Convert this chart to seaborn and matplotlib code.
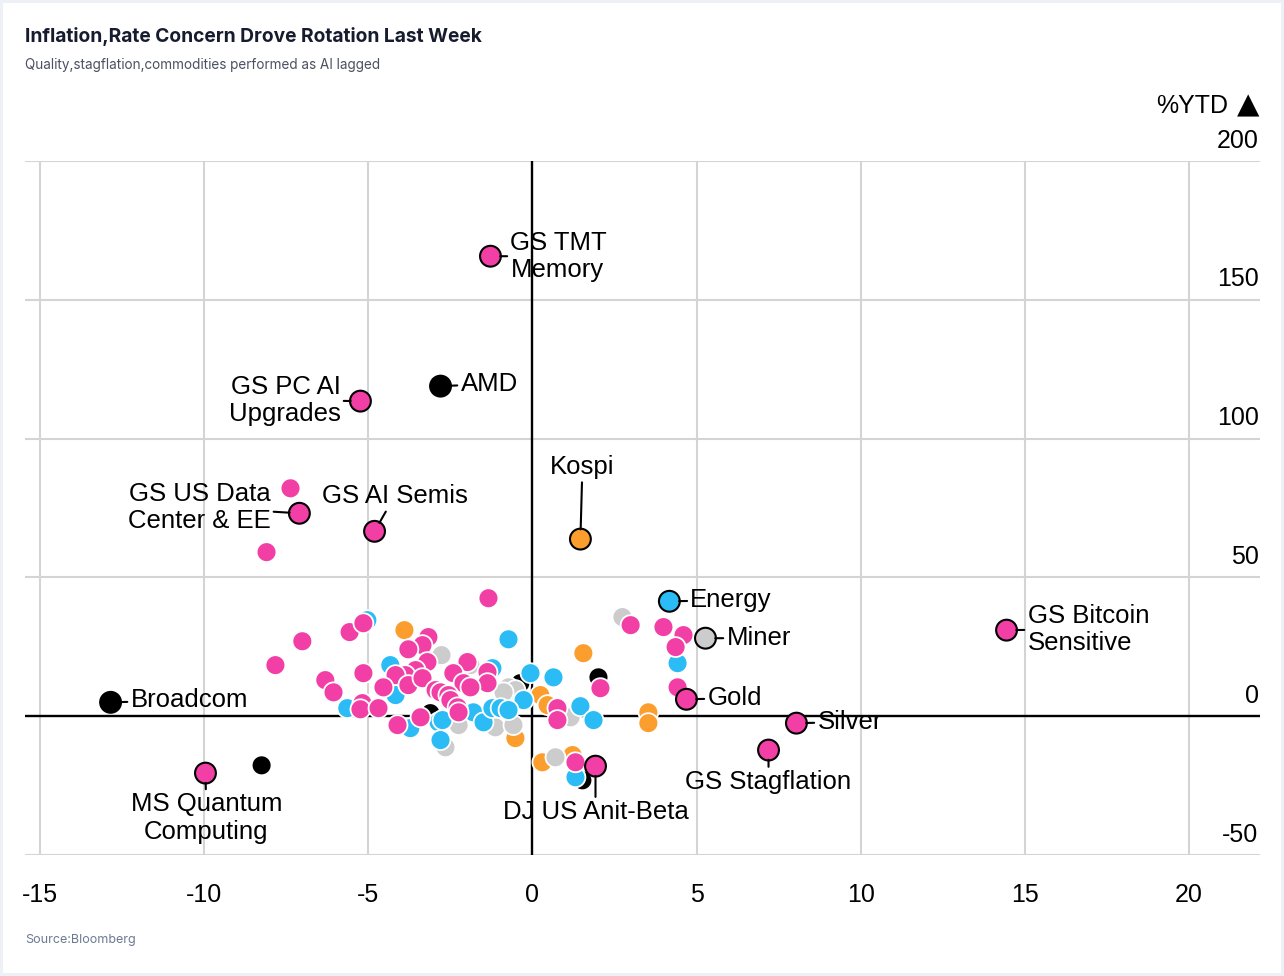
import numpy as np
import pandas as pd
import matplotlib
matplotlib.use("Agg")
import matplotlib.pyplot as plt
import matplotlib.transforms as mtransforms
import seaborn as sns

# unlabeled points by group (x = week %, y = %YTD)
black_x = [-8.25, 2.01, 1.52, -0.37, -3.11, -1.98]
black_y = [-17.7, 14.0, -23.1, 11.9, 1.1, 18.4]

orange_x = [-3.90, 1.55, 0.24, 0.46, 3.53, 3.53, -0.52, 0.30, 1.22]
orange_y = [31.0, 22.7, 7.6, 4.0, 1.4, -2.5, -7.9, -16.6, -14.0]

gray_x = [-2.77, -0.73, -0.52, -0.88, -2.25, -1.13, -0.58, -2.65, 1.16, 2.74, 0.70, -1.89]
gray_y = [22.0, 10.4, 9.4, 8.6, -3.2, -4.0, -3.2, -11.2, -0.4, 35.7, -14.8, 18.4]

blue_x = [-5.03, -4.33, -4.17, -5.64, -3.72, -2.86, -2.80, -0.73, -1.22, -0.06, 0.64,
          -0.27, -2.74, -1.80, -1.49, -1.22, -0.97, -0.73, 1.46, 1.86, 4.42, 1.31]
blue_y = [34.6, 18.4, 7.6, 2.9, -4.3, -2.2, -8.6, 27.7, 17.3, 15.5, 14.0,
          5.8, -1.4, 1.4, -2.2, 2.9, 2.9, 2.2, 3.6, -1.4, 19.1, -22.0]

pink_x = [-7.37, -8.10, -1.34, -7.01, -7.83, -5.57, -5.15, -6.31, -6.06, -5.18, -5.24,
          -4.69, -3.17, -3.35, -3.78, -3.20, -3.56, -3.87, -4.17, -3.78, -3.35, -4.54,
          -5.15, -2.95, -3.41, -4.11, -1.98, -2.41, -1.37, -1.37, -2.10, -1.89, -2.80,
          -2.56, -2.50, -2.28, -2.25, 2.07, 0.76, 0.76, 2.99, 3.99, 4.60, 4.36, 4.42, 1.31]
pink_y = [82.1, 59.1, 42.5, 27.0, 18.4, 30.3, 33.5, 13.0, 8.6, 4.7, 2.5,
          2.9, 28.5, 25.6, 24.1, 19.5, 16.6, 14.8, 14.8, 11.2, 13.7, 10.4,
          15.5, 9.4, -0.4, -3.2, 19.5, 15.5, 15.9, 11.9, 11.9, 10.4, 8.6,
          7.6, 5.8, 3.2, 1.4, 10.1, 2.9, -1.4, 32.8, 32.1, 29.2, 24.9, 10.4, -16.6]

# labeled points
label_names = ["GS TMT\nMemory", "AMD", "GS PC AI\nUpgrades", "GS US Data\nCenter & EE",
               "GS AI Semis", "Kospi", "Energy", "Miner", "GS Bitcoin\nSensitive", "Gold",
               "Silver", "GS Stagflation", "DJ US Anit-Beta", "Broadcom", "MS Quantum\nComputing"]
label_x = [-1.28, -2.80, -5.24, -7.10, -4.81, 1.46, 4.17, 5.27, 14.44, 4.69,
           8.04, 7.19, 1.92, -12.85, -9.96]
label_y = [165.7, 118.9, 113.5, 73.1, 66.6, 63.8, 41.4, 28.1, 31.0, 6.1,
           -2.5, -12.2, -18.0, 5.0, -20.5]
label_group = ["pink", "black", "pink", "pink", "pink", "orange", "blue", "gray", "pink", "pink",
               "pink", "pink", "pink", "black", "pink"]

x_ticks = [-15, -10, -5, 0, 5, 10, 15, 20]
y_ticks = [-50, 0, 50, 100, 150, 200]

palette = {"black": "#000000", "orange": "#fb9e2e", "gray": "#cccccc",
           "blue": "#2bbcf5", "pink": "#f23fa6"}

# text placement for labels: (dx px, dy px, ha)
label_place = [(20, 0, "left"), (20, 2, "left"), (-20, 1, "right"), (-29, 6, "right"),
               (20, 35, "center"), (2, 72, "center"), (21, 1, "left"), (21, 0, "left"),
               (21, 1, "left"), (21, 1, "left"), (21, 1, "left"), (0, -32, "center"),
               (0, -46, "center"), (20, 2, "left"), (1, -45, "center")]

groups = [("black", black_x, black_y), ("orange", orange_x, orange_y), ("gray", gray_x, gray_y),
          ("blue", blue_x, blue_y), ("pink", pink_x, pink_y)]
df = pd.concat([pd.DataFrame({"x": gx, "y": gy, "group": g}) for g, gx, gy in groups],
               ignore_index=True)
lab = pd.DataFrame({"x": label_x, "y": label_y, "group": label_group, "name": label_names})

sns.set_style("white")
plt.rcParams["font.family"] = ["Liberation Sans", "DejaVu Sans"]
plt.rcParams["text.color"] = "black"
plt.rcParams["xtick.color"] = "black"
plt.rcParams["ytick.color"] = "black"

fig = plt.figure(figsize=(12.84, 9.76), dpi=100)
ax = fig.add_axes([25 / 1284, 121 / 976, 1235 / 1284, 694 / 976])

sns.scatterplot(data=df, x="x", y="y", hue="group", palette=palette, s=205,
                edgecolor="white", linewidth=1.3, legend=False, ax=ax, zorder=3)
sns.scatterplot(data=lab, x="x", y="y", hue="group", palette=palette, s=225,
                edgecolor="black", linewidth=1.5, legend=False, ax=ax, zorder=4)

for name, px, py, (dx, dy, ha) in zip(label_names, label_x, label_y, label_place):
    ax.annotate(name, (px, py), xytext=(dx, dy), textcoords="offset pixels",
                ha=ha, va="center", fontsize=18.5, linespacing=1.17, zorder=5,
                color="black",
                arrowprops=dict(arrowstyle="-", color="black", lw=1.5,
                                shrinkA=0, shrinkB=7))

ax.axhline(0, color="black", lw=1.7, zorder=2)
ax.axvline(0, color="black", lw=1.7, zorder=2)

ax.set_xlim(-15.457, 22.16)
ax.set_ylim(-50, 200)
ax.set_xticks(x_ticks)
ax.set_yticks(y_ticks)
ax.set_xticklabels([str(v) for v in x_ticks])
ax.set_yticklabels([str(v) for v in y_ticks])
ax.grid(True, color="#d4d4d4", lw=1.5)
ax.set_axisbelow(True)
ax.set_xlabel("")
ax.set_ylabel("")
sns.despine(ax=ax, left=True, bottom=True)

ax.yaxis.tick_right()
ax.tick_params(axis="y", length=0, pad=-1, labelsize=18)
ax.tick_params(axis="x", length=0, pad=20, labelsize=18)
shift = mtransforms.ScaledTranslation(0, 6 / 72, fig.dpi_scale_trans)
for lbl in ax.get_yticklabels():
    lbl.set_horizontalalignment("right")
    lbl.set_verticalalignment("bottom")
    lbl.set_transform(lbl.get_transform() + shift)

fig.text(1228 / 1284, 1 - 106 / 976, "%YTD", ha="right", va="center", fontsize=18)
fig.text(1259 / 1284, 1 - 105 / 976, "\u25b2", ha="right", va="center", fontsize=21,
         family="DejaVu Sans")

fig.text(25 / 1284, 1 - 36 / 976, "Inflation,Rate Concern Drove Rotation Last Week",
         ha="left", va="center", fontsize=13.8, fontweight="bold", family="Inter",
         color="#161b2e")
fig.text(25 / 1284, 1 - 65 / 976, "Quality,stagflation,commodities performed as AI lagged",
         ha="left", va="center", fontsize=9.75, family="Inter", color="#4a5260")
fig.text(25 / 1284, 1 - 940 / 976, "Source:Bloomberg", ha="left", va="center",
         fontsize=9, family="Inter", color="#6b7a90")

fig.patch.set_edgecolor("#edf1f6")
fig.patch.set_linewidth(4)

fig.savefig("out.png", dpi=100)
